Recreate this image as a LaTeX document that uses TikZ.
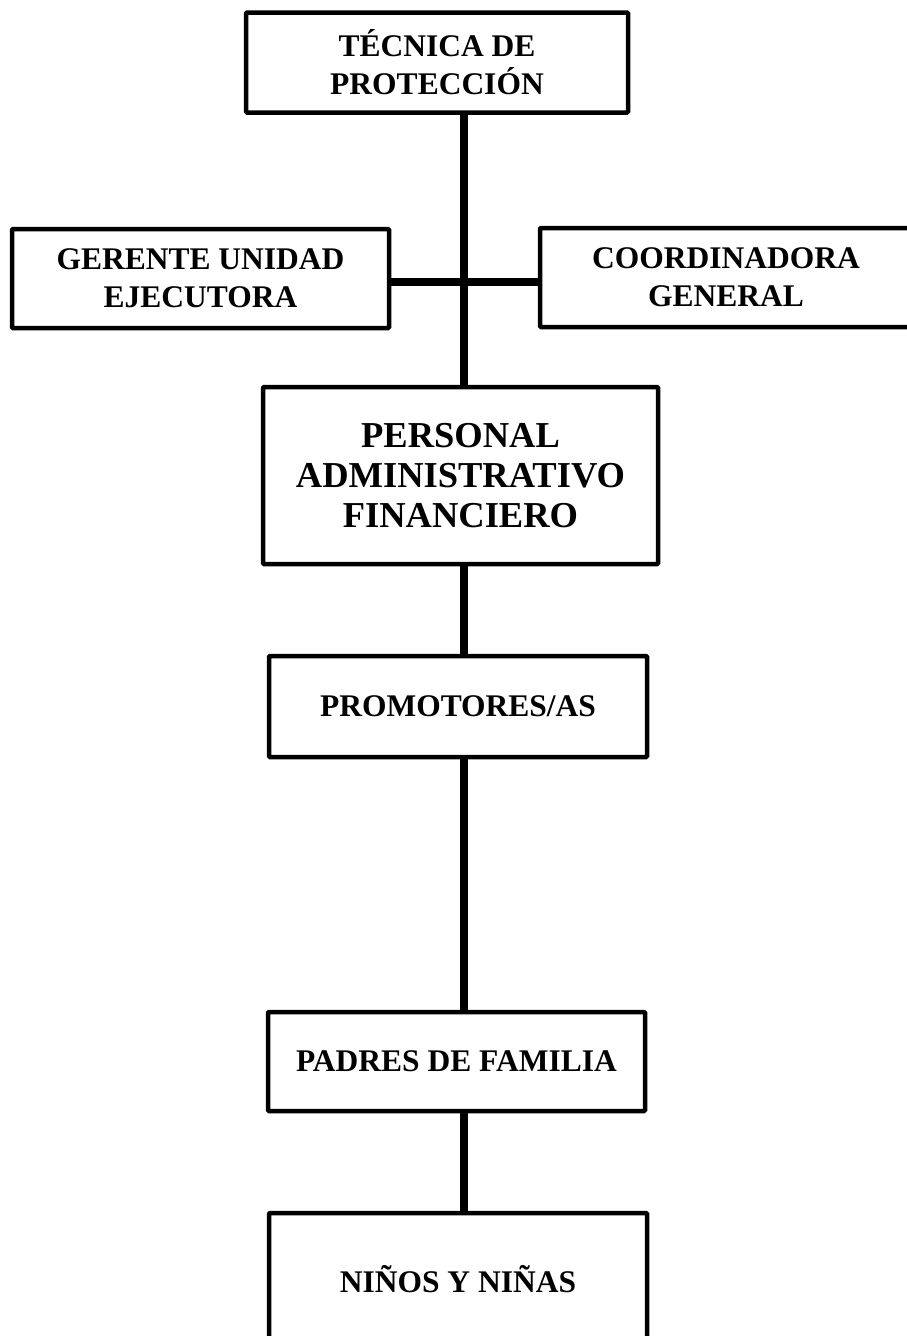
\documentclass[tikz,border=0pt]{standalone}
\usepackage{fontspec}
\setmainfont{Liberation Serif}
\begin{document}
\begin{tikzpicture}[x=1pt,y=1pt,
  box/.style={draw=black, fill=white, line width=4.5pt, rounded corners=1pt, inner sep=0pt,
    align=center, font=\bfseries\fontsize{31.5}{38}\selectfont},
  bigbox/.style={box, font=\bfseries\fontsize{36.5}{40}\selectfont},
  conn/.style={line width=8pt, black}]
\useasboundingbox (0,0) rectangle (907,-1336);
\fill[white] (0,0) rectangle (907,-1336);
\clip (0,0) rectangle (907,-1336);
\coordinate (spine) at (464,0);
\coordinate (hline) at (0,-282);
% connectors
\coordinate (tecb) at (464,-112.5);
\coordinate (pert) at (464,-387);
\draw[conn] (tecb) -- (pert);
\draw[conn] (389,-282) -- (540,-282);
% nodes
\node[box, minimum width=382pt, minimum height=100pt] (tec) at (437,-62.5) {TÉCNICA DE\\PROTECCIÓN};
\node[box, minimum width=377pt, minimum height=99pt] (ger) at (200.5,-278.5) {GERENTE UNIDAD\\EJECUTORA};
\node[box, minimum width=372pt, minimum height=99pt] (coo) at (726,-277.5) {COORDINADORA\\GENERAL};
\node[bigbox, minimum width=395pt, minimum height=177pt] (per) at (460.5,-475.5) {PERSONAL\\ADMINISTRATIVO\\FINANCIERO};
\node[box, minimum width=378pt, minimum height=101pt] (pro) at (458,-706.5) {PROMOTORES/AS};
\node[box, minimum width=377pt, minimum height=99pt] (pad) at (456.5,-1061.5) {PADRES DE FAMILIA};
\node[box, minimum width=378pt, minimum height=132pt] (nin) at (458,-1279) {NIÑOS Y NIÑAS};
% vertical connectors between boxes
\draw[conn] (per.south -| spine) -- (pro.north -| spine);
\draw[conn] (pro.south -| spine) -- (pad.north -| spine);
\draw[conn] (pad.south -| spine) -- (nin.north -| spine);
\draw[conn] (ger.east |- hline) -- (coo.west |- hline);
\draw[conn] (tec.south -| spine) -- (per.north -| spine);
\end{tikzpicture}
\end{document}
